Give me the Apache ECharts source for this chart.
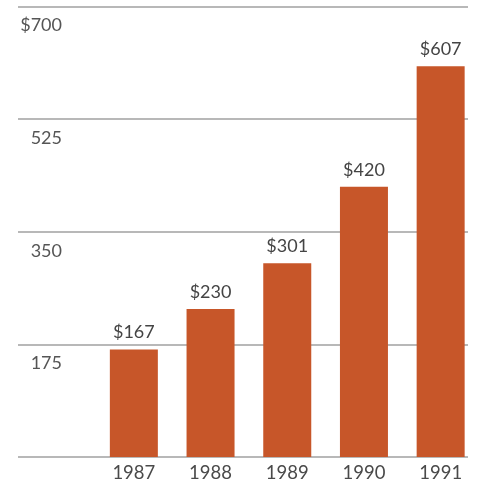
<!DOCTYPE html>
<html>
<head>
<meta charset="utf-8">
<script src="https://cdn.jsdelivr.net/npm/echarts@6/dist/echarts.min.js"></script>
<style>
  html, body { margin: 0; padding: 0; background: #fff; }
  #chart { width: 479px; height: 483px; }
</style>
</head>
<body>
<div id="chart"></div>
<script>
// Annual figures, in dollars
const years = ['1987', '1988', '1989', '1990', '1991'];
const amounts = [167, 230, 301, 420, 607];
// Value scale
const yMin = 0;
const yMax = 700;
const yStep = 175;

const textFont = 'Lato, "Open Sans", sans-serif';
const chart = echarts.init(document.getElementById('chart'), null, { renderer: 'canvas' });

chart.setOption({
  animation: false,
  backgroundColor: '#ffffff',
  grid: [
    // full-width grid that carries the horizontal rules
    { left: 18, right: 11, top: 6.5, bottom: 26 },
    // grid holding the bars, five slots of ~78px each
    { left: 95.5, width: 389, top: 6.5, bottom: 26, containLabel: false }
  ],
  xAxis: [
    { gridIndex: 0, type: 'value', show: false, min: 0, max: 1 },
    {
      gridIndex: 1,
      type: 'category',
      data: years,
      axisLine: { show: false },
      axisTick: { show: false },
      axisLabel: {
        margin: 7,
        verticalAlign: 'top',
        fontFamily: textFont,
        fontSize: 18.5,
        color: '#4a4a4a'
      }
    }
  ],
  yAxis: [
    {
      gridIndex: 0,
      type: 'value',
      min: yMin,
      max: yMax,
      interval: yStep,
      axisLine: { show: false },
      axisTick: { show: false },
      splitLine: { show: true, lineStyle: { color: '#a0a0a0', width: 1.5 } },
      axisLabel: {
        inside: true,
        align: 'right',
        margin: 44,
        verticalAlign: 'top',
        padding: [10, 0, 0, 0],
        lineHeight: 18,
        fontFamily: textFont,
        fontSize: 18,
        color: '#555555',
        formatter: function (v) {
          if (v === yMin) return '';
          if (v === yMax) return '$' + v;
          return String(v);
        }
      }
    },
    { gridIndex: 1, type: 'value', min: yMin, max: yMax, show: false }
  ],
  series: [
    {
      type: 'bar',
      xAxisIndex: 1,
      yAxisIndex: 1,
      data: amounts,
      barWidth: 48,
      itemStyle: { color: '#c75629' },
      label: {
        show: true,
        position: 'top',
        distance: 8,
        fontFamily: textFont,
        fontSize: 18,
        color: '#444444',
        formatter: function (p) { return '$' + p.value; }
      }
    }
  ]
});
</script>
</body>
</html>
